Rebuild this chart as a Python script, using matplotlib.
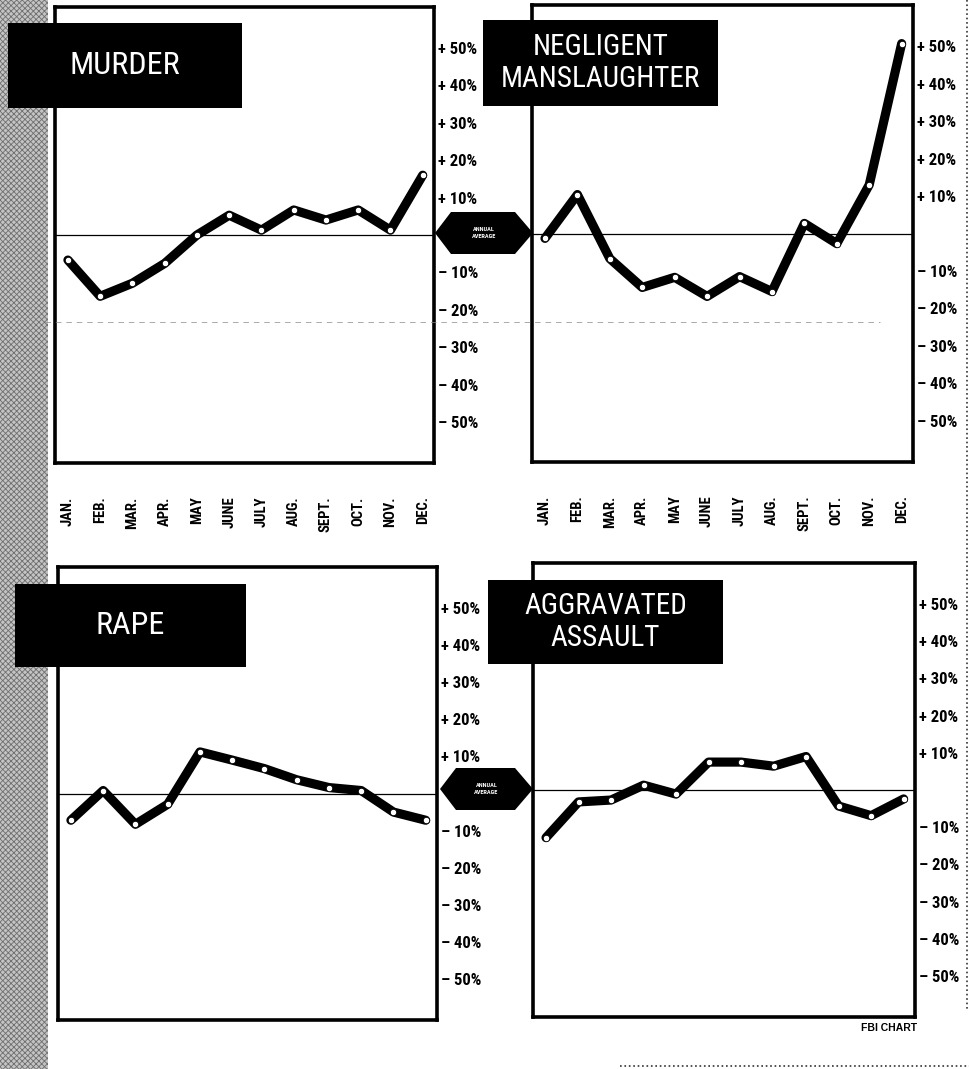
import matplotlib
matplotlib.use("Agg")
import matplotlib.pyplot as plt
from matplotlib import font_manager
from matplotlib.patches import Rectangle, Polygon
from matplotlib.lines import Line2D

# values: % variation from the annual average
months = ["JAN.", "FEB.", "MAR.", "APR.", "MAY", "JUNE",
          "JULY", "AUG.", "SEPT.", "OCT.", "NOV.", "DEC."]
murder = [-6.7, -16.4, -12.9, -7.6, 0.0, 5.3, 1.3, 6.7, 4.0, 6.7, 1.3, 16.0]
manslaughter = [-1.3, 10.4, -6.7, -14.4, -11.7, -16.8, -11.5, -15.5, 2.7, -2.7, 13.0, 50.7]
rape = [-7.2, 0.8, -8.3, -2.9, 11.2, 9.0, 6.7, 3.7, 1.6, 0.8, -5.0, -7.2]
assault = [-12.8, -3.2, -2.7, 1.3, -1.1, 7.5, 7.5, 6.4, 9.0, -4.3, -6.9, -2.4]
pct_ticks = [50, 40, 30, 20, 10, -10, -20, -30, -40, -50]
pct_labels = [f"+ {v}%" if v > 0 else f"\u2013 {-v}%" for v in pct_ticks]

W, H = 970, 1069

installed = {f.name for f in font_manager.fontManager.ttflist}
narrow = [f for f in ["Liberation Sans Narrow", "Roboto Condensed", "Open Sans Condensed"]
          if f in installed] + ["Roboto", "DejaVu Sans"]
narrow = [f for f in narrow if f in installed] or ["DejaVu Sans"]


def fx(x):
    return x / W


def fy(y):
    return 1 - y / H


def add_axes(x0, y0, x1, y1):
    return fig.add_axes([fx(x0), fy(y1), (x1 - x0) / W, (y1 - y0) / H])


def draw_panel(ax, values, show_months):
    x = list(range(len(months)))
    ax.axhline(0, color="black", lw=0.9, zorder=1)
    ax.plot(x, values, color="black", lw=6.6, solid_joinstyle="round",
            solid_capstyle="round", zorder=2)
    ax.plot(x, values, ls="none", marker="o", ms=4.6, mfc="white",
            mec="black", mew=0.6, zorder=3)
    ax.set_xlim(-0.4, 11.35)
    ax.set_ylim(-61, 61)
    ax.yaxis.tick_right()
    ax.set_yticks(pct_ticks, pct_labels, fontsize=12, fontweight="heavy",
                  family=narrow, fontstretch="condensed")
    ax.tick_params(axis="y", length=0, pad=3)
    if show_months:
        ax.set_xticks(x, months, rotation=90, fontsize=10.5, fontweight="heavy",
                      family=narrow, fontstretch="condensed")
        ax.tick_params(axis="x", length=0, pad=24)
    else:
        ax.set_xticks([])
    for s in ax.spines.values():
        s.set_linewidth(2.6)
        s.set_color("black")


def title_box(x0, y0, x1, y1, text, size):
    fig.patches.append(Rectangle((fx(x0), fy(y1)), (x1 - x0) / W, (y1 - y0) / H,
                                 transform=fig.transFigure, facecolor="black",
                                 edgecolor="none", zorder=5))
    fig.text(fx((x0 + x1) / 2), fy((y0 + y1) / 2), text, color="white",
             ha="center", va="center", fontsize=size, family=narrow,
             fontstretch="condensed", linespacing=1.2, zorder=6)


def hexagon(xl, xr, yc, hh):
    pts = [(xl, yc), (xl + 16, yc - hh), (xr - 18, yc - hh), (xr, yc),
           (xr - 18, yc + hh), (xl + 16, yc + hh)]
    fig.patches.append(Polygon([(fx(a), fy(b)) for a, b in pts], closed=True,
                               transform=fig.transFigure, facecolor="black",
                               edgecolor="none", zorder=5))
    fig.text(fx((xl + xr) / 2), fy(yc), "ANNUAL\nAVERAGE", color="white",
             ha="center", va="center", fontsize=4.5, fontweight="bold",
             family=narrow, linespacing=1.6, zorder=6)


fig = plt.figure(figsize=(W / 100, H / 100), dpi=100)

# halftone strip on the left edge and the dotted page edges
plt.rcParams["hatch.linewidth"] = 0.6
fig.patches.append(Rectangle((0, 0), fx(48), 1, transform=fig.transFigure,
                             facecolor="#c4c4c4", edgecolor="#6e6e6e",
                             hatch="xxxxxx", lw=0, zorder=0))
fig.lines.append(Line2D([fx(967), fx(967)], [1, fy(1010)], ls=":", lw=1.2,
                        color="#333333", transform=fig.transFigure))
fig.lines.append(Line2D([fx(620), fx(970)], [fy(1066), fy(1066)], ls=":", lw=1.2,
                        color="#333333", transform=fig.transFigure))

ax_tl = add_axes(55, 7, 434, 463)
ax_tr = add_axes(532, 5, 913, 462)
ax_bl = add_axes(58, 567, 437, 1020)
ax_br = add_axes(533, 563, 915, 1017)

draw_panel(ax_tl, murder, True)
draw_panel(ax_tr, manslaughter, True)
draw_panel(ax_bl, rape, False)
draw_panel(ax_br, assault, False)

# faint fold mark across the upper charts
fig.lines.append(Line2D([fx(45), fx(880)], [fy(322), fy(322)], ls=(0, (8, 7)),
                        lw=0.5, color="#888888", transform=fig.transFigure, zorder=4))

title_box(8, 23, 242, 108, "MURDER", 23)
title_box(483, 20, 718, 106, "NEGLIGENT\nMANSLAUGHTER", 21)
title_box(15, 584, 246, 667, "RAPE", 23)
title_box(488, 580, 723, 664, "AGGRAVATED\nASSAULT", 21)

hexagon(435, 533, 233, 21)
hexagon(440, 533, 789, 21)

fig.text(fx(917), fy(1028), "FBI CHART", ha="right", va="center", fontsize=7.5,
         fontweight="bold", family=["Liberation Sans", "DejaVu Sans"])

fig.savefig("out.png", dpi=100)
